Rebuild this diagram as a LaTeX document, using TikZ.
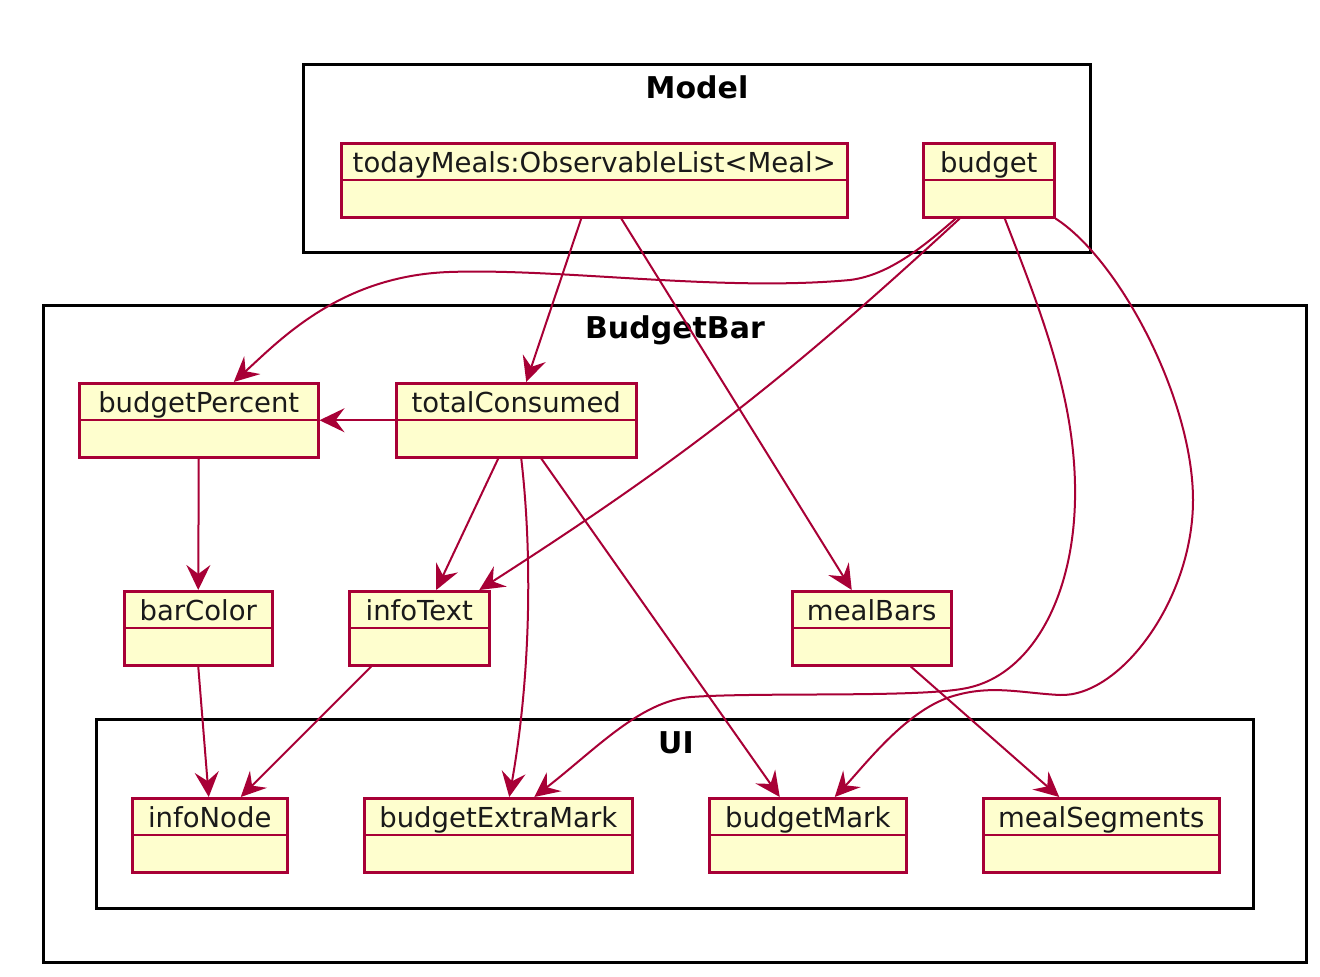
\documentclass[tikz,border=0pt]{standalone}
\usepackage{fontspec}
\setmainfont{DejaVu Sans}
\usetikzlibrary{arrows.meta}

\definecolor{umlborder}{HTML}{A80036}
\definecolor{umlfill}{HTML}{FEFECE}
\definecolor{umltext}{HTML}{1A1A1A}

\tikzset{
  frame/.style={draw=black, line width=3pt},
  frametitle/.style={font=\fontsize{30}{36}\selectfont\bfseries, text=black,
    inner sep=0pt, text height=22pt, text depth=0pt},
  classbox/.style={draw=umlborder, fill=umlfill, line width=2.5pt,
    anchor=north west, minimum height=74pt, inner sep=0pt},
  classrule/.style={draw=umlborder, line width=2.5pt},
  classname/.style={font=\fontsize{27.5}{33}\selectfont, text=umltext,
    inner sep=0pt, text height=20pt, text depth=0pt},
  dep/.style={draw=umlborder, line width=2pt,
    -{Stealth[length=25pt,width=24pt,inset=9pt]}},
}

% class box: name, left, top, width, label
\newcommand\umlclass[5]{%
  \node[classbox, minimum width=#4pt] (#1) at (#2,#3) {};
  \draw[classrule] ([yshift=-38pt]#1.north west) -- ([yshift=-38pt]#1.north east);
  \node[classname] (#1-label) at ([yshift=-20pt]#1.north) {#5};
}

\begin{document}
\begin{tikzpicture}[x=1pt, y=-1pt]
  \useasboundingbox[fill=white] (0,0) rectangle (1320,977);

  % packages
  \draw[frame] (303,64) rectangle (1090,252);
  \node[frametitle] (modelTitle) at (697,87) {Model};
  \draw[frame] (43,305) rectangle (1306,962);
  \node[frametitle] (barTitle) at (675,327) {BudgetBar};
  \draw[frame] (96,719) rectangle (1253,908);
  \node[frametitle] (uiTitle) at (676,742) {UI};

  % classes
  \umlclass{today}{340}{142}{506}{todayMeals:ObservableList<Meal>}
  \umlclass{budget}{922}{142}{131}{budget}
  \umlclass{bp}{78}{382}{239}{budgetPercent}
  \umlclass{tc}{395}{382}{240}{totalConsumed}
  \umlclass{barColor}{123}{590}{148}{barColor}
  \umlclass{infoText}{348}{590}{140}{infoText}
  \umlclass{mealBars}{791}{590}{159}{mealBars}
  \umlclass{infoNode}{131}{797}{155}{infoNode}
  \umlclass{bem}{363}{797}{268}{budgetExtraMark}
  \umlclass{budgetMark}{708}{797}{197}{budgetMark}
  \umlclass{mealSeg}{982}{797}{236}{mealSegments}

  % dependencies from the model
  \draw[dep] ([xshift=-13pt]today.south) -- ([xshift=10pt]tc.north);
  \draw[dep] ([xshift=27pt]today.south) -- ([xshift=-20pt]mealBars.north);
  \draw[dep] ([xshift=-33pt]budget.south)
    .. controls (925,245) and (890,275) .. (850,280)
    .. controls (720,292) and (560,268) .. (449,272)
    .. controls (340,276) and (280,340) .. ([xshift=35pt]bp.north);
  \draw[dep] ([xshift=-29pt]budget.south) to[bend left=5] ([xshift=60pt]infoText.north);
  \draw[dep] ([xshift=16pt]budget.south)
    .. controls (1040,310) and (1077,400) .. (1075,500)
    .. controls (1073,600) and (1030,675) .. (967,688)
    .. controls (920,698) and (760,692) .. (691,697)
    .. controls (640,701) and (595,750) .. ([xshift=36pt]bem.north);
  \draw[dep] (budget.south east)
    .. controls (1120,260) and (1193,400) .. (1193,500)
    .. controls (1193,600) and (1120,697) .. (1060,695)
    .. controls (1020,693) and (990,684) .. (950,697)
    .. controls (905,712) and (865,765) .. ([xshift=27pt]budgetMark.north);

  % dependencies inside the bar
  \draw[dep] (tc.west) -- (bp.east);
  \draw[dep] ([xshift=-18pt]tc.south) -- ([xshift=17pt]infoText.north);
  \draw[dep] ([xshift=5pt]tc.south) .. controls (533,560) and (530,680) .. ([xshift=11pt]bem.north);
  \draw[dep] ([xshift=25pt]tc.south) -- ([xshift=-28pt]budgetMark.north);
  \draw[dep] (bp.south) -- (barColor.north);
  \draw[dep] (barColor.south) -- ([xshift=-1pt]infoNode.north);
  \draw[dep] ([xshift=-48pt]infoText.south) -- ([xshift=31pt]infoNode.north);
  \draw[dep] ([xshift=39pt]mealBars.south) -- ([xshift=-42pt]mealSeg.north);
\end{tikzpicture}
\end{document}
